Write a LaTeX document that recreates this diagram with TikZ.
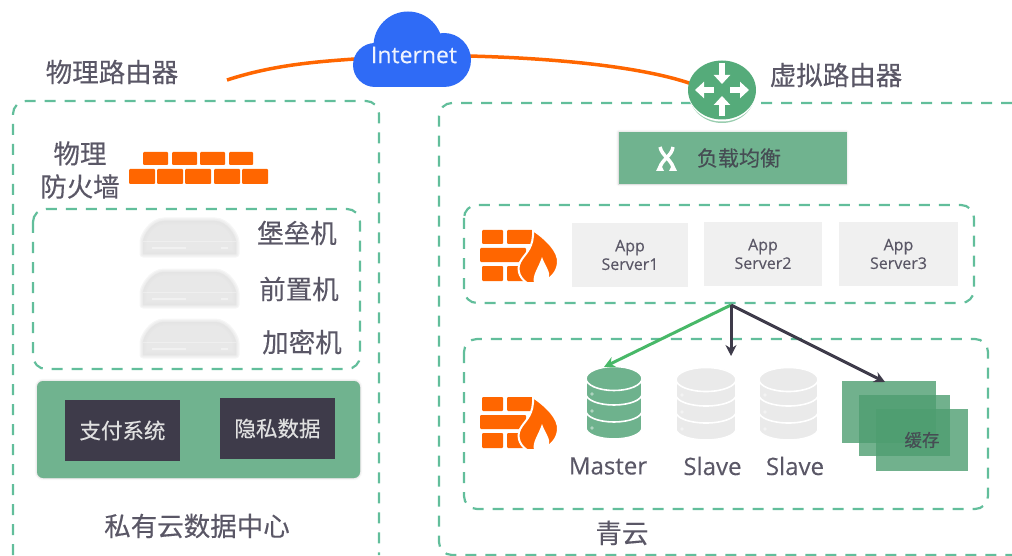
\documentclass[tikz,border=0pt]{standalone}
\usepackage{fontspec}
\setmainfont[FakeBold=0.25]{Open Sans}
\newfontfamily\cjk[FakeBold=0.3]{Noto Sans CJK SC}
\usetikzlibrary{arrows.meta,shadows.blur}
\definecolor{dashgreen}{HTML}{62BE9B}
\definecolor{panelgreen}{HTML}{70B38F}
\definecolor{routergreen}{HTML}{55AB7A}
\definecolor{inkgray}{HTML}{5A5766}
\definecolor{darkslate}{HTML}{3E3B4A}
\definecolor{fireorange}{HTML}{FF6600}
\definecolor{cloudblue}{HTML}{2F6BF6}
\definecolor{blobgray}{HTML}{E2E2E2}
\definecolor{dbgray}{HTML}{EAEAEA}
\definecolor{appgray}{HTML}{F0F0F0}
\tikzset{
  dashbox/.style={draw=dashgreen,line width=2.2pt,dash pattern=on 11pt off 9pt,rounded corners=13pt},
  label/.style={inner sep=0pt,text=inkgray,font=\cjk\fontsize{26.5}{30}\selectfont,align=center},
  latinlabel/.style={inner sep=0pt,text=inkgray,font=\fontsize{24}{28}\selectfont},
  brick/.style={fill=fireorange,rounded corners=1pt},
  panel/.style={fill=panelgreen,inner sep=0pt,blur shadow={shadow blur steps=6,shadow xshift=0pt,shadow yshift=0pt,shadow blur radius=2.5pt,shadow opacity=20}},
  darkbox/.style={fill=darkslate,inner sep=0pt,text=white!88!black,font=\cjk\fontsize{21.5}{24}\selectfont},
  appbox/.style={fill=appgray,inner sep=0pt,text=inkgray,align=center,font=\fontsize{16}{18.5}\selectfont},
  cachebox/.style={fill=routergreen!92!black,fill opacity=.8,inner sep=0pt},
  wire/.style={draw=fireorange,line width=3.5pt},
  linkdark/.style={draw=darkslate,line width=3pt,-{Stealth[length=11pt,width=11pt]}},
  linkgreen/.style={draw=routergreen!85!green,line width=3pt,-{Stealth[length=11pt,width=11pt]}},
  routerarrow/.style={draw=white,line width=6.5pt,-{Triangle[length=9pt,width=16pt]}},
}
\newcommand{\firewall}[2]{%
  \begin{scope}[shift={(#1,#2)}]
    \fill[brick] (2,1) rectangle (23,15);
    \fill[brick] (27,1) rectangle (53,15);
    \fill[brick] (0,19) rectangle (46,33);
    \fill[brick] (2,37) rectangle (23,52);
    \fill[brick] (27,37) rectangle (46,52);
    \fill[fireorange,draw=white,line width=2pt] (53,1) .. controls (66,10) and (79,22) .. (78,34) .. controls (77,44) and (70,50) .. (62,54) -- (47,54) .. controls (38,48) and (36,38) .. (42,30) .. controls (46,24) and (54,18) .. (53,1) -- cycle;
    \fill[white] (62,28) .. controls (65,37) and (71,43) .. (69,50) .. controls (67,52) and (65,54) .. (63,54) -- (54,54) .. controls (52,46) and (58,40) .. (62,28) -- cycle;
  \end{scope}}
\newcommand{\dbstack}[4]{%
  \begin{scope}[shift={(#1,#2)}]
    \foreach \b in {72,55,38}{
      \fill[#4,draw=white,line width=1.6pt] (-#3,11) -- (-#3,\b-11) arc[start angle=180,end angle=0,x radius=#3,y radius=11] -- (#3,11) -- cycle;
      \fill[white,opacity=.45] (-#3+6,\b-11) circle (1.8);
    }
    \fill[#4,draw=white,line width=1.6pt] (0,11.5) ellipse[x radius=#3,y radius=12];
  \end{scope}}
\newcommand{\serverblob}[1]{%
  \begin{scope}[shift={(140,#1)}]
    \foreach \w in {7,4.5,2,0.2}{
      \draw[blobgray,fill=blobgray,opacity=.32,line width=\w pt,line join=round] (3,36) -- (3,24) .. controls (3,18) and (12,3) .. (24,3) -- (75,3) .. controls (87,3) and (96,18) .. (96,24) -- (96,36) -- cycle;
    }
    \draw[white,opacity=.3,line width=.8pt] (3,23) -- (96,23);
    \draw[white,opacity=.4,line width=2pt] (12,30) -- (46,30) (81,30) -- (88,30);
  \end{scope}}
\begin{document}
\begin{tikzpicture}[x=1pt,y=-1pt]
\useasboundingbox (0,0) rectangle (1012,556);
% wires
\coordinate (wireL) at (227,80);
\coordinate (wireR) at (692,84);
\coordinate (cloudL) at (355,59);
\coordinate (cloudR) at (468,56);
\draw[wire] (wireL) .. controls (270,66) and (310,62) .. (cloudL);
\draw[wire] (cloudR) .. controls (550,58) and (640,66) .. (wireR);
% dashed frames
\draw[dashbox] (13,555) -- (13,101) -- (379,101) -- (379,555);
\draw[dashbox] (33,209) rectangle (360,369);
\draw[dashbox] (1012,103) -- (439,103) -- (439,555) -- (1012,555);
\draw[dashbox] (464,205) rectangle (974,303);
\draw[dashbox] (464,339) rectangle (988,509);
% cloud
\fill[cloudblue] (408,46) circle (34.5);
\fill[cloudblue] (375,65) circle (22);
\fill[cloudblue] (444,60) circle (27);
\fill[cloudblue] (375,60) rectangle (444,87);
\node[inner sep=0pt,text=white!92!cloudblue,font=\fontsize{23}{28}\selectfont] (inet) at (414,55) {Internet};
% router
\fill[routergreen!60!white] (722,93) ellipse[x radius=33,y radius=30];
\fill[white] (722,91.5) ellipse[x radius=34,y radius=30];
\fill[routergreen] (722,90) ellipse[x radius=34,y radius=29.5];
\draw[routerarrow] (722,63) -- (722,84);
\draw[routerarrow] (722,116) -- (722,96);
\draw[routerarrow] (714,90) -- (695,90);
\draw[routerarrow] (730,90) -- (749,90);
% top labels
\node[label] (lPhysRouter) at (112,72) {物理路由器};
\node[label] (lVirtRouter) at (836,75) {虚拟路由器};
\node[label] (lFirewall) at (80,170) {物理\\[3pt]防火墙};
% brick wall
\fill[brick] (143,152) rectangle (168,165);
\fill[brick] (172,152) rectangle (197,165);
\fill[brick] (200,152) rectangle (225,165);
\fill[brick] (229,152) rectangle (253,165);
\fill[brick] (129,169) rectangle (155,184);
\fill[brick] (157,169) rectangle (183,184);
\fill[brick] (185,169) rectangle (211,184);
\fill[brick] (214,169) rectangle (240,184);
\fill[brick] (242,169) rectangle (268,184);
% servers
\serverblob{218}
\serverblob{269}
\serverblob{319}
\node[label] (lBastion) at (297,233) {堡垒机};
\node[label] (lFront) at (299,289) {前置机};
\node[label] (lCrypt) at (302,342) {加密机};
% private data panel
\node[panel,rounded corners=6pt,minimum width=323pt,minimum height=97pt] (pPanel) at (198.5,429.5) {};
\node[darkbox,minimum width=115pt,minimum height=61pt] (pay) at (122.5,430.5) {支付系统};
\node[darkbox,minimum width=115pt,minimum height=61pt] (priv) at (277.5,428.5) {隐私数据};
\node[label] (lPrivate) at (197,526) {私有云数据中心};
% load balancer
\node[panel,minimum width=228pt,minimum height=52pt] (lb) at (732.5,158) {};
\draw[white,line width=3.5pt] (660,147) .. controls (662,156) and (672,160) .. (673,168);
\draw[white,line width=3.5pt] (673,147) .. controls (672,156) and (661,160) .. (660,168);
\fill[white] (656,171) -- (664,171) -- (660,163) -- cycle;
\fill[white] (669,171) -- (677,171) -- (673,163) -- cycle;
\node[inner sep=0pt,text=darkslate!85!panelgreen,font=\cjk\fontsize{21}{24}\selectfont] (lbText) at (739,158) {负载均衡};
% app servers
\firewall{480}{229}
\node[appbox,minimum width=116pt,minimum height=64pt] (app1) at (630,255) {App\\Server1};
\node[appbox,minimum width=118pt,minimum height=64pt] (app2) at (763,254) {App\\Server2};
\node[appbox,minimum width=119pt,minimum height=64pt] (app3) at (898.5,254) {App\\Server3};
% data tier
\firewall{480}{396}
\dbstack{614}{367}{28}{panelgreen!92!routergreen}
\dbstack{706}{368}{30}{dbgray}
\dbstack{788.5}{368}{29.5}{dbgray}
\node[latinlabel] (lMaster) at (608,466) {Master};
\node[latinlabel] (lSlaveA) at (712.5,466) {Slave};
\node[latinlabel] (lSlaveB) at (795,466) {Slave};
\node[cachebox,minimum width=94pt,minimum height=62pt] (cacheA) at (889,412) {};
\node[cachebox,minimum width=91pt,minimum height=61pt] (cacheB) at (904.5,425.5) {};
\node[cachebox,minimum width=92pt,minimum height=62pt] (cacheC) at (922,440) {};
\node[inner sep=0pt,text=darkslate!85!panelgreen,font=\cjk\fontsize{17.5}{20}\selectfont] (lCache) at (922,440) {缓存};
\node[label] (lQing) at (622,533) {青云};
% links
\coordinate (hub) at (731,305);
\coordinate (masterTop) at (604,367);
\coordinate (slaveTop) at (731,356);
\coordinate (cacheTop) at (885,382);
\draw[linkgreen] (hub) -- (masterTop);
\draw[linkdark] (hub) -- (slaveTop);
\draw[linkdark] (hub) -- (cacheTop);
\end{tikzpicture}
\end{document}
